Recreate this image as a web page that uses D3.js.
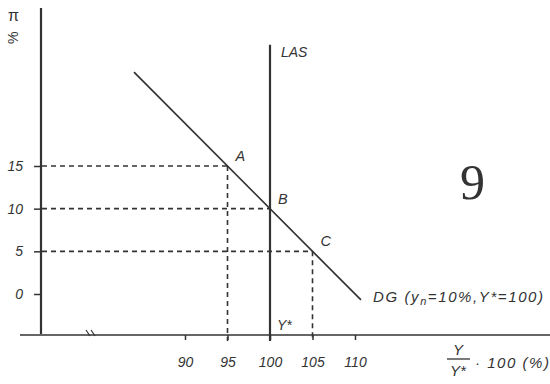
<!DOCTYPE html>
<html><head><meta charset="utf-8">
<script src="https://cdn.jsdelivr.net/npm/d3@7"></script>
<style>
html,body{margin:0;padding:0;background:#fff;}
svg text{font-family:"Liberation Sans",Arial,sans-serif;font-style:italic;fill:#333;}
</style></head>
<body><svg id="c" width="550" height="384"></svg>
<script>
// Data
const xTicks = [90, 95, 100, 105, 110];
const yTicks = [0, 5, 10, 15];
const points = [
  {label: "A", Y: 95, pi: 15},
  {label: "B", Y: 100, pi: 10},
  {label: "C", Y: 105, pi: 5}
];
const dgLine = [{Y: 84, pi: 26}, {Y: 110.7, pi: -0.7}];
const lasX = 100, lasTop = 29.2;
const dgLabel = "DG";

const svg = d3.select("#c");
const ink = "#333";
const x = d3.scaleLinear().domain([90, 110]).range([185, 355]);
const y = d3.scaleLinear().domain([0, 15]).range([294, 166]);
const axisX = 41, axisY = 335;

// axes lines
svg.append("line").attr("x1", axisX).attr("x2", axisX).attr("y1", 8).attr("y2", axisY - 1)
  .attr("stroke", ink).attr("stroke-width", 2.2);
svg.append("line").attr("x1", 20).attr("x2", 550).attr("y1", axisY).attr("y2", axisY)
  .attr("stroke", ink).attr("stroke-width", 1.5);
// break mark
[86, 91].forEach(bx => svg.append("line").attr("x1", bx).attr("y1", axisY - 5).attr("x2", bx + 4).attr("y2", axisY + 1)
  .attr("stroke", ink).attr("stroke-width", 1.2));

const tickFont = sel => sel.attr("font-size", 14).attr("fill", ink)
  .style("font-family", "Liberation Sans, Arial, sans-serif").style("font-style", "italic");

// y axis ticks
const gy = svg.append("g").attr("transform", `translate(${axisX},0)`)
  .call(d3.axisLeft(y).tickValues(yTicks).tickSize(7).tickPadding(11));
gy.select(".domain").remove();
gy.selectAll(".tick line").attr("stroke", ink).attr("stroke-width", 1.5);
gy.selectAll(".tick text").call(tickFont);

// x axis ticks
const gx = svg.append("g").attr("transform", `translate(0,${axisY})`)
  .call(d3.axisBottom(x).tickValues(xTicks).tickSize(5).tickPadding(17));
gx.select(".domain").remove();
gx.selectAll(".tick line").attr("stroke", ink).attr("stroke-width", 1.5);
gx.selectAll(".tick text").call(tickFont);

// dashed guides
points.forEach(p => {
  svg.append("line").attr("x1", axisX + 1).attr("x2", x(p.Y)).attr("y1", y(p.pi)).attr("y2", y(p.pi))
    .attr("stroke", ink).attr("stroke-width", 1.6).attr("stroke-dasharray", "5,4");
  if (p.Y !== lasX) {
    svg.append("line").attr("x1", x(p.Y)).attr("x2", x(p.Y)).attr("y1", y(p.pi)).attr("y2", axisY + 6)
      .attr("stroke", ink).attr("stroke-width", 1.6).attr("stroke-dasharray", "5,4");
  }
});

// LAS
svg.append("line").attr("x1", x(lasX)).attr("x2", x(lasX)).attr("y1", y(lasTop)).attr("y2", axisY + 6)
  .attr("stroke", ink).attr("stroke-width", 2.2);
svg.append("text").attr("x", x(lasX) + 11).attr("y", y(lasTop) + 12).attr("font-size", 14).text("LAS");
svg.append("text").attr("x", x(lasX) + 7).attr("y", axisY - 5).attr("font-size", 14).text("Y*");

// DG line
svg.append("line").attr("x1", x(dgLine[0].Y)).attr("y1", y(dgLine[0].pi))
  .attr("x2", x(dgLine[1].Y)).attr("y2", y(dgLine[1].pi)).attr("stroke", ink).attr("stroke-width", 1.7);

// point labels
points.forEach(p => {
  svg.append("text").attr("x", x(p.Y) + 8).attr("y", y(p.pi) - 5).attr("font-size", 14.5).text(p.label);
});

// DG label
const dg = svg.append("text").attr("x", 373).attr("y", 302).attr("font-size", 15)
  .attr("textLength", 170).attr("lengthAdjust", "spacing");
dg.append("tspan").text(dgLabel + " (y");
dg.append("tspan").attr("font-size", 11).attr("dy", 3).text("n");
dg.append("tspan").attr("dy", -3).text("=10%,Y*=100)");

// y axis label
svg.append("text").attr("x", 8).attr("y", 21).attr("font-size", 16).style("font-style", "normal").text("π");
svg.append("text").attr("transform", "translate(18,44) rotate(-90)").attr("font-size", 14).style("font-style", "normal").text("%");

// x axis label
svg.append("text").attr("x", 458).attr("y", 355).attr("font-size", 15).attr("text-anchor", "middle").text("Y");
svg.append("line").attr("x1", 447).attr("x2", 470).attr("y1", 359).attr("y2", 359).attr("stroke", ink).attr("stroke-width", 1.3);
svg.append("text").attr("x", 458).attr("y", 376).attr("font-size", 15).attr("text-anchor", "middle").text("Y*");
svg.append("text").attr("x", 475).attr("y", 368).attr("font-size", 15)
  .attr("textLength", 74).attr("lengthAdjust", "spacing").text("· 100 (%)");

// page number
svg.append("text").attr("x", 460).attr("y", 199).attr("font-size", 50).style("font-style", "normal")
  .style("font-family", "Liberation Serif, serif").attr("fill", "#444").text("9");
</script></body></html>
